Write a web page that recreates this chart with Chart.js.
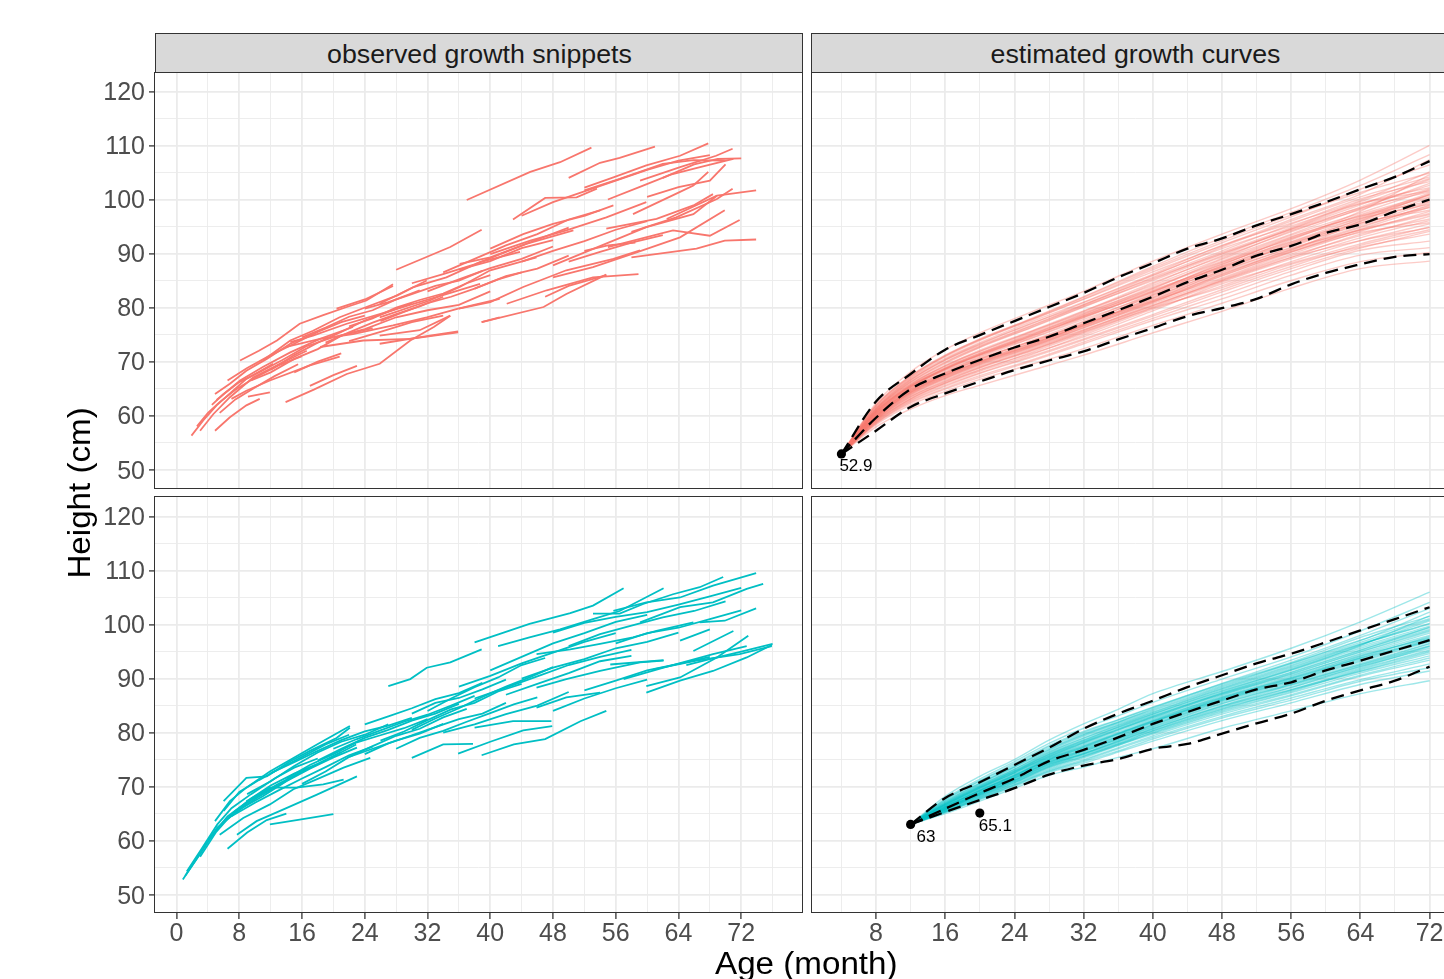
<!DOCTYPE html>
<html lang="en">
<head>
<meta charset="UTF-8">
<title>Growth snippets and estimated growth curves</title>
<script src="https://cdn.jsdelivr.net/npm/chart.js"></script>
<style>
    body {
        margin: 0;
        width: 1444px;
        height: 979px;
        overflow: hidden;
        position: relative;
        background: #fff;
        font-family: "Liberation Sans", Arial, sans-serif;
    }
    .box { position: absolute; }
    .box canvas { display: block; }
    .frame {
        position: absolute;
        border: 1.5px solid #333;
        box-sizing: border-box;
        pointer-events: none;
    }
    .strip {
        position: absolute;
        background: #d9d9d9;
        border: 1.5px solid #333;
        box-sizing: border-box;
        color: #1a1a1a;
        font-size: 25px;
        line-height: 1;
        padding-top: 8px;
        text-align: center;
        white-space: nowrap;
    }
    .strip span, .title span { display: inline-block; transform: scaleX(1.07); }
    .title {
        position: absolute;
        font-size: 31px;
        line-height: 36px;
        color: #000;
        text-align: center;
        white-space: nowrap;
    }
</style>
</head>
<body>

<div class="strip" style="left:155px; top:33px; width:648px; height:40px;"><span>observed growth snippets</span></div>
<div class="strip" style="left:811px; top:33px; width:648px; height:40px;"><span>estimated growth curves</span></div>

<div class="box" style="left:0; top:72px;"><canvas id="tl" width="802" height="416"></canvas></div>
<div class="box" style="left:812px; top:72px;"><canvas id="tr" width="647" height="416"></canvas></div>
<div class="box" style="left:0; top:497px;"><canvas id="bl" width="802" height="476"></canvas></div>
<div class="box" style="left:812px; top:497px;"><canvas id="br" width="647" height="476"></canvas></div>

<div class="frame" style="left:154px; top:72px; width:649px; height:417px;"></div>
<div class="frame" style="left:811px; top:72px; width:660px; height:417px;"></div>
<div class="frame" style="left:154px; top:496px; width:649px; height:417px;"></div>
<div class="frame" style="left:811px; top:496px; width:660px; height:417px;"></div>

<div class="title" style="left:-70px; top:475px; width:300px; transform:rotate(-90deg);"><span>Height (cm)</span></div>
<div class="title" style="left:606px; top:946px; width:400px;"><span>Age (month)</span></div>

<script>
const FONT = "'Liberation Sans', Arial, sans-serif";
Chart.defaults.font.family = FONT;

// axis breaks (major + minor grid)
const xBreaksLeft = [0, 4, 8, 12, 16, 20, 24, 28, 32, 36, 40, 44, 48, 52, 56, 60, 64, 68, 72, 76];
const xBreaksRight = [4, 8, 12, 16, 20, 24, 28, 32, 36, 40, 44, 48, 52, 56, 60, 64, 68, 72];
const yBreaks = [50, 55, 60, 65, 70, 75, 80, 85, 90, 95, 100, 105, 110, 115, 120];

// observed snippets, [age, height] per visit
const snippetsTop = [
    [[1.9,56.3],[3.4,59.1],[5.1,61.9],[7.2,64.6],[8.9,66.8],[12.3,69.6]],
    [[3,57.2],[4.7,60.3],[6.8,63.4],[9.8,67.1],[13.2,69.6],[16.6,72]],
    [[4.9,57.2],[6.8,59.7],[8.9,61.9],[10.6,63.1]],
    [[4.9,64],[6.8,65.9],[8.9,68.3],[11.5,70.5],[14.5,73.3],[17.4,75.1]],
    [[5.1,62.9],[8.1,66.5],[11,69],[14.5,71.7],[18.3,74.2],[22.5,76.4]],
    [[7,63.1],[8.9,64.6],[11.9,66.5],[17,69.3]],
    [[9.1,63.5],[11.9,64.3]],
    [[17,69.3],[20.8,70.9]],
    [[13.9,62.5],[17.5,64.8],[21.7,67.7],[25.9,69.6],[29.8,73.9],[32.8,76.4],[34.9,78.5]],
    [[8.1,70.2],[10.5,72],[12.8,73.9],[15.7,77],[18.7,78.6],[21.7,80.1],[24.2,81.3],[27.6,84.3]],
    [[11,70.2],[14.5,73.9],[17.4,75.7],[20.8,78.2],[24.2,80.1],[28.1,82.2],[31.9,85]],
    [[14.5,73.6],[17.4,74.8],[21.7,77],[25.9,78.8],[30.2,80.7],[34.4,82.5],[38.7,84.4]],
    [[14,72.7],[18.3,74.2],[22.5,75.1],[27.6,76.7],[31.9,78.2],[35.9,79.8]],
    [[18.3,72.7],[23.8,73.9],[29.8,74.2],[35.9,75.4]],
    [[20.4,79.8],[24.2,81.6],[27.6,84]],
    [[35.9,79.8],[41.2,81.6]],
    [[38.9,77.3],[41.2,78.2]],
    [[2.6,58],[4,60.5],[5.5,62.5],[7.5,64.8],[10,67],[13,69.3],[16,71]],
    [[4.5,62],[6,64],[8,66.2],[10.5,68],[13.5,70.3],[16.5,72.8],[20,74.5]],
    [[5.5,60.5],[7.5,63],[10,65.2],[12.5,67.3],[15.5,69.5]],
    [[6.5,66.5],[9,68.8],[12,71.2],[15,73.3],[18,75.5],[21,77.3],[24,78.5]],
    [[9.5,66.5],[12,68],[15,70.5],[18,72.3],[21,74.8],[25,76.2]],
    [[12,68.5],[15,71.2],[18,73.5],[21,75.5],[24,77.6],[27,79.2],[30,80.8]],
    [[16,74.5],[19,76.3],[22,78.3],[25,79.5],[28,81.5],[31,83.2]],
    [[19,73.5],[22,75.4],[25,77.2],[28,78.8],[31,80.2],[34,82]],
    [[22,76.5],[25,78],[28,80],[31,81.4],[34,82.6],[37,84.5],[40,86]],
    [[24,79.8],[27,81],[30,82.5],[33,84],[36,85],[39,86.8]],
    [[26,77.5],[29,79.2],[32,80.8],[35,82],[38,83.5],[41,85.2],[44,86.5]],
    [[37,99.9],[45.1,105.1],[48.9,106.9],[52.9,109.6]],
    [[50,104],[54,106.8],[56.5,107.7],[61,109.8]],
    [[42.9,96.3],[47,100.3],[51,100.4],[53.6,102]],
    [[52,102.2],[55.7,104.1],[59.9,106.3],[64.2,108.1],[67.8,110.4]],
    [[52,101.7],[56.5,103.8],[62,106.6],[65.9,107.3],[69.9,107.2]],
    [[59.1,103.5],[64.2,106],[68.8,108.1],[70.9,109.4]],
    [[58.2,97.3],[64.2,101.4],[65.9,102.6],[67.8,105.1]],
    [[48,87.8],[55.7,92.4],[59.9,94.9],[65.9,97.3],[68.9,100.7]],
    [[48,85.6],[53.1,87.5],[58.2,90],[64.2,93],[69.9,98]],
    [[58,89.3],[66.3,90.9],[69.9,92.4],[73.9,92.6]],
    [[55,91.2],[63.3,94.3],[68,93.3],[71.8,96.2]],
    [[58,94],[63.7,96.7],[68.9,100.1],[70.9,102]],
    [[62.5,96.4],[68.9,100.7],[73.9,101.7]],
    [[54.8,94.6],[61.2,96.4],[65.9,98.9],[68.4,101]],
    [[38.9,77.3],[46.8,80.1],[49.7,82.5],[54.8,86.1]],
    [[42.1,80.7],[47.2,83.2],[53.1,85.6],[58.9,86.2]],
    [[36,79.8],[40,81],[44.2,83.8],[49.7,86.9],[55.7,89],[59.1,90.6]],
    [[28,87],[34.9,91.2],[38.9,94.4]],
    [[40,90.9],[44.2,93.6],[48,95.5],[52.1,97],[55.7,98.9]],
    [[40,89.9],[45.1,92.4],[49.7,94.3],[54.8,96.7],[59.9,99.5]],
    [[36.1,88.1],[40,89.3],[44.6,91.8],[50.6,94.3]],
    [[25.9,80.7],[30.2,83.8],[34.4,85.6],[38.7,88.4],[43.8,90.3]],
    [[25.9,78.2],[32.3,81.3],[36.1,83.8],[40,86.9],[45.9,89.3]],
    [[25.9,73.3],[32.3,74.8],[35.9,75.6]],
    [[25.9,74.8],[31,75.8],[34.9,78.5]],
    [[44,97],[48,99.5],[52,101.5],[56,103.5],[60,105.5],[64,107.2],[68,108.2]],
    [[55,100],[59,102.3],[63,104.6],[67,106.1],[71,107.5]],
    [[62,104],[66,106.5],[69,107.5],[72,107.6]],
    [[60,100.5],[64,102.3],[68,103.5],[70,106.5]],
    [[47,82],[50,84],[54.8,86]],
    [[50,88.5],[54,90.3],[58,92],[62,93.4]],
    [[52,90.5],[55,91.5],[58.5,92]],
    [[44,88.5],[48,90.5],[52,92.3],[56,94.4],[60,96]],
    [[30,84.5],[34,86.2],[38,88],[42,90.3],[46,92.6],[50,94.8]],
    [[32,83],[36,85.2],[40,87.3],[44,89],[48,91.3]],
    [[34,86.5],[38,89],[42,91.5],[46,93.6],[50,96.3],[54,98]],
    [[36,87],[40,88.6],[44,91],[48,92.5]],
    [[38,83.5],[42,85.8],[46,87.2],[50,89.6]],
    [[20,74.5],[24,76],[28,78.2],[32,79.5],[36,80.5],[40,83]],
    [[22,73.8],[26,75.5],[30,77.3],[34,78.5]],
    [[15,68],[18,70],[21,71.5]],
    [[17,65.5],[20,67.5],[23,69.2]]
];

const snippetsBottom = [
    [[0.8,52.8],[2.5,56.5],[4.5,61],[6.5,64.5],[9,67.2],[12,69.5]],
    [[1.1,53.5],[3,57.5],[5,62],[7.5,65.5],[10,68],[13,70.5],[16,72.8]],
    [[1.3,54.3],[3.2,58.5],[5.2,63],[7,66],[9.5,68.6],[12.5,71.5],[15,73.5],[18,75.2]],
    [[6,67.3],[8.9,71.6],[11.5,71.9],[14.5,74.7],[17,76.6],[20.4,79],[22.1,80.9]],
    [[4.9,63.6],[6.8,67.3],[8.9,69.8],[11.9,72.8],[14.9,75.3],[17.9,77.8],[22.1,81.2]],
    [[5.1,62.3],[7.7,65.4],[10.2,67.9],[13.2,70.4],[16.2,72.9],[19.6,75.3],[22.9,77.8]],
    [[5.5,61.1],[8.5,64.2],[11.9,66.7],[14.9,69.5],[18.3,71.6],[21.3,73.5],[24.7,75.3]],
    [[7.7,61.1],[10.2,63.6],[14,66],[17.9,68.5],[23,71.9]],
    [[11.9,63],[15.7,63.9],[20,64.9]],
    [[8.9,67.3],[11.9,69.8],[15.3,69.8],[18.7,70.4],[21.3,71.3]],
    [[6.5,58.5],[9,61.5],[11.5,63.8],[14,65]],
    [[4,60],[6,63.5],[8.5,66.2],[11,68.2],[14,71],[17,73.3],[20,75.4],[23,77.2]],
    [[7,64.5],[10,67],[13,69.3],[16,71.5],[19,73.6],[22,75.8],[25,77.4]],
    [[9,68.6],[12,71],[15,73.8],[18,76.3],[21,78.3],[24,79.6],[27,81.5]],
    [[12,72.5],[15,74.5],[18,76.6],[21,78.6],[24,80.2],[27,81.3],[30,82.7]],
    [[14,71.5],[17,74],[20,76],[23,78.2],[26,79.5],[29,80.8],[32,82.5]],
    [[16,70.5],[19,72.8],[22,75.5],[25,77],[28,78.5],[31,79.8],[34,81.6]],
    [[18,74.8],[21,77],[24,79],[27,80.5],[30,82.2],[33,83.5],[36,85.3]],
    [[20,77],[23,78.8],[26,80.4],[29,82],[32,83.3],[35,85],[38,86.8]],
    [[22,75.5],[25,77.5],[28,79.4],[31,80.7],[34,82.8],[37,84.4]],
    [[24,76],[27,78],[30,79.5],[33,81],[36,82.5],[39,83.5],[42,85.5]],
    [[24,81.5],[27,83],[30,84.5],[33,86.2],[36,87.3],[39,89.2]],
    [[26,78.5],[29,80.2],[32,82.3],[35,84.3],[38,85.5],[41,87.6],[44,89]],
    [[28,77],[31,79],[34,80.3],[37,82],[40,83.6],[43,85.2],[46,86.5]],
    [[30,80.5],[33,82.6],[36,84.5],[39,86.6],[42,88.5],[45,90.2],[48,92.1]],
    [[32,84],[35,86.3],[38,88.4],[41,90.2],[44,92.5],[47,93.8]],
    [[27,88.6],[29.8,89.9],[31.9,92],[34.9,93],[38.9,95.4]],
    [[38,96.7],[41.7,98.5],[45,100.1],[50.2,102.1],[53.1,103.5],[57,106.7]],
    [[41,96],[45,97.6],[48.9,99.1],[53.1,101],[56.5,102.5],[62.1,106.7]],
    [[53.1,102],[56.5,102],[59.5,103.8],[63.3,105.6],[66.7,106.9],[69.7,108.8]],
    [[55.7,102.5],[59.9,104.1],[64.2,105],[68.4,107.2],[73.9,109.5]],
    [[59.1,100.4],[64.2,103.2],[68.4,104.1],[72.7,106.6],[74.8,107.5]],
    [[66.7,100.4],[69.9,100.7],[73.9,103]],
    [[57,89.9],[62.1,92],[68.4,94.5],[72.7,96]],
    [[59.9,88.6],[64.2,90.2],[68.9,93.9],[72.9,97.9]],
    [[59.9,87.4],[64.2,89.6],[68.4,91.4],[72.7,93.9],[75.9,96.2]],
    [[60.8,91.7],[66.3,93.3],[71.8,94.5],[75.9,96]],
    [[65.9,95.1],[71,98.8]],
    [[64.2,97],[68,99.1]],
    [[45.9,94.5],[50.2,95.4],[54,96.4],[58.2,97.6],[61.2,98.8],[65.9,100.4]],
    [[45.9,88.3],[49.7,89.9],[54,91.4],[59.1,93],[62.1,93.3]],
    [[45.9,84.6],[49.7,86.5],[54,87.4]],
    [[30,75.3],[34,77.8],[37.8,77.9]],
    [[35.9,76.1],[40,78.3],[44.2,80.4],[47.9,81.2]],
    [[38.9,75.8],[43,77.8],[47,78.8],[51.5,82.1],[54.8,84]],
    [[38,80.9],[42.9,82.1],[47.8,82.1]],
    [[55.3,92.6],[62.1,93.4]],
    [[36,88.5],[40,90.5],[44,92.8],[48,94.8],[52,96.8],[56,98.4]],
    [[38,86.3],[42,88.3],[46,90.4],[50,92.5],[54,94],[58,95.3]],
    [[40,91.5],[44,94],[48,96.5],[52,98.4],[56,100.5],[60,101.8]],
    [[42,87],[46,89],[50,91],[54,93.2],[58,94.2]],
    [[44,90],[48,92],[52,93.6],[56,95.6],[60,96.8],[64,98.5]],
    [[48,98.5],[52,100.3],[56,101.4],[60,102.3],[64,103.7],[68,105.2],[72,106.8]],
    [[50,96],[54,98.2],[58,99.8],[62,101.3],[66,102.5],[70,104.3]],
    [[56,96.5],[60,98.4],[64,99.4],[68,101],[72,102.6]],
    [[30,83.5],[33,85.5],[36,86.4],[39,88],[42,89.8]],
    [[34,80],[38,81.5],[42,83.4],[46,85],[50,87.5]],
    [[48,84],[52,86.3],[56,88.2],[60,89.8]],
    [[52,87.8],[56,89.6],[60,91.5],[64,92.7],[68,94]],
    [[65,92.5],[68,93.6],[72,95],[76,96.4]],
    [[6,65.5],[8,69],[10.5,71.2],[13,73.2],[16,75.5],[19,77.8],[22,79.6]],
    [[3,57],[5,61.5],[7,64.8],[9.5,67.8],[12,70.2],[15,72.4],[18,74.2],[21,76.4]]
];

// estimated curves (top row starts at 4 months, bottom row at 12 months)
const curveAgesTop = [4, 8, 12, 16, 20, 26, 32, 40, 48, 56, 64, 72];
const curvesTop = [
    [52.9, 61.8, 67.2, 71.0, 74.0, 77.8, 81.6, 87.0, 92.0, 96.8, 101.9, 106.4],
    [52.9, 61.2, 66.5, 70.3, 73.2, 77.1, 80.6, 85.9, 91.2, 96.0, 100.5, 104.2],
    [52.9, 62.3, 68.1, 72.2, 75.3, 79.2, 83.0, 88.6, 93.6, 98.3, 103.6, 110.0],
    [52.9, 60.9, 65.9, 69.1, 71.9, 75.5, 79.3, 84.6, 89.4, 94.0, 98.6, 102.6],
    [52.9, 60.4, 65.2, 68.5, 71.2, 74.6, 78.4, 83.1, 88.0, 92.8, 96.7, 101.2],
    [52.9, 59.9, 64.7, 67.9, 70.4, 73.9, 77.5, 82.6, 87.6, 92.1, 96.2, 100.3],
    [52.9, 59.6, 64.1, 67.0, 69.5, 72.7, 76.3, 80.9, 85.8, 90.4, 94.5, 98.6],
    [52.9, 59.2, 63.5, 66.3, 68.8, 72.0, 75.4, 80.0, 84.7, 89.0, 92.9, 96.1],
    [52.9, 58.8, 62.8, 65.6, 67.9, 71.0, 74.2, 78.7, 83.3, 87.6, 91.5, 94.4],
    [52.9, 58.3, 62.0, 64.5, 66.7, 69.5, 72.4, 76.7, 80.8, 85.0, 88.5, 90.2],
    [52.9, 57.9, 61.2, 63.7, 65.6, 68.4, 71.2, 75.3, 79.3, 83.6, 87.2, 88.6],
    [52.9, 60.6, 65.6, 68.9, 71.5, 75.0, 78.8, 83.8, 88.6, 93.4, 97.5, 101.8],
    [52.9, 61.0, 66.1, 69.6, 72.6, 76.3, 80.1, 85.2, 90.2, 94.8, 99.6, 103.9],
    [52.9, 59.4, 63.9, 66.8, 69.2, 72.4, 75.8, 80.7, 85.3, 89.9, 94.1, 97.8],
    [52.9, 60.2, 64.9, 68.2, 70.6, 73.7, 77.0, 81.4, 86.1, 90.8, 95.0, 98.8],
    [52.9, 59.8, 64.4, 67.5, 69.9, 73.2, 77.0, 82.3, 87.1, 91.5, 95.3, 99.4],
    [52.9, 60.7, 65.4, 68.7, 71.4, 75.1, 78.6, 83.3, 87.6, 92.5, 97.2, 100.8],
    [52.9, 59.1, 63.2, 66.0, 68.5, 71.5, 74.6, 79.4, 84.4, 88.2, 91.8, 94.9],
    [52.9, 61.5, 66.9, 70.6, 73.5, 77.4, 81.0, 86.2, 91.5, 95.6, 99.8, 105.1],
    [52.9, 59.7, 64.3, 67.3, 69.8, 72.9, 76.6, 81.6, 86.4, 90.7, 94.8, 99.0],
    [52.9, 60.3, 65.0, 68.0, 70.8, 74.3, 77.8, 82.4, 87.8, 93.0, 97.0, 100.5],
    [52.9, 58.6, 62.5, 65.1, 67.4, 70.3, 73.6, 78.0, 82.3, 86.7, 90.6, 92.3],
    [52.9, 60.1, 64.6, 67.7, 70.5, 73.8, 76.9, 81.2, 85.5, 90.2, 94.4, 97.4],
    [52.9, 61.1, 66.3, 69.9, 72.8, 76.6, 80.4, 85.6, 90.5, 95.4, 100.1, 103.3],
    [52.9, 59.3, 63.6, 66.6, 69.0, 72.2, 75.7, 80.4, 85.1, 89.6, 93.3, 96.9],
    [52.9, 60.5, 65.3, 68.4, 71.0, 74.8, 78.2, 82.9, 88.3, 93.1, 96.9, 99.7],
    [52.9, 59.0, 63.0, 65.9, 68.2, 71.3, 74.9, 79.7, 84.0, 88.5, 92.4, 95.5],
    [52.9, 61.4, 66.7, 70.4, 73.3, 77.0, 80.9, 86.0, 90.9, 95.1, 99.3, 102.2],
    [52.9, 60.0, 64.6, 67.6, 70.1, 73.3, 76.7, 81.9, 86.8, 91.2, 96.0, 101.0],
    [52.9, 58.9, 63.1, 66.1, 68.4, 71.7, 75.2, 79.9, 83.7, 88.0, 91.2, 93.6],
    [52.9, 60.8, 65.7, 69.2, 72.1, 75.7, 79.4, 84.1, 89.1, 94.2, 98.1, 102.0],
    [52.9, 59.5, 64.0, 67.1, 69.6, 72.8, 76.2, 81.0, 86.2, 90.6, 95.6, 98.0],
    [52.9, 61.7, 67.0, 70.9, 73.9, 77.7, 81.5, 86.6, 91.4, 96.3, 101.0, 107.4],
    [52.9, 58.5, 62.3, 64.9, 67.1, 70.1, 73.3, 77.6, 81.6, 86.0, 89.7, 91.1],
    [52.9, 60.6, 65.5, 68.8, 71.6, 75.3, 78.9, 83.6, 88.4, 92.7, 97.8, 104.6],
    [52.9, 59.9, 64.5, 67.4, 70.0, 73.0, 76.4, 81.3, 86.6, 91.0, 94.3, 97.2],
    [52.9, 60.3, 65.1, 68.6, 71.3, 74.9, 78.5, 83.5, 88.9, 93.6, 98.3, 103.0],
    [52.9, 59.6, 64.2, 67.2, 69.7, 73.1, 76.8, 81.8, 86.9, 91.8, 96.4, 100.9],
    [52.9, 61.3, 66.6, 70.2, 73.0, 76.7, 80.5, 85.4, 90.0, 94.4, 98.4, 101.4],
    [52.9, 58.7, 62.7, 65.4, 67.8, 70.8, 74.0, 78.4, 82.9, 87.2, 91.0, 94.1],
    [52.9, 60.0, 64.8, 67.8, 70.3, 73.5, 77.3, 82.1, 87.3, 91.6, 95.9, 99.6],
    [52.9, 61.9, 67.3, 71.1, 74.2, 77.9, 81.9, 87.3, 92.4, 97.1, 101.3, 104.9],
    [52.9, 59.4, 63.8, 66.9, 69.4, 72.6, 75.9, 80.4, 84.9, 89.3, 93.6, 96.4],
    [52.9, 60.9, 65.8, 69.3, 71.9, 75.6, 79.1, 84.4, 89.6, 94.5, 99.0, 103.7],
    [52.9, 59.8, 64.3, 67.5, 70.0, 73.4, 76.6, 81.1, 85.9, 90.3, 93.9, 95.7],
    [52.9, 60.4, 65.3, 68.7, 71.2, 74.4, 78.1, 83.0, 87.4, 91.9, 95.6, 98.5],
    [52.9, 62.0, 67.4, 71.2, 74.1, 78.0, 82.0, 87.6, 92.9, 97.6, 102.6, 108.3],
    [52.9, 59.2, 63.4, 66.4, 68.9, 72.1, 75.5, 80.2, 85.0, 89.3, 92.4, 94.8],
    [52.9, 60.7, 65.5, 68.6, 71.3, 74.7, 78.3, 82.8, 88.1, 92.2, 96.5, 99.1],
    [52.9, 61.2, 66.2, 69.8, 72.7, 76.4, 80.2, 85.0, 89.9, 94.6, 99.2, 101.6]
];

const curveAgesBottom = [12, 16, 20, 24, 28, 32, 36, 40, 48, 56, 64, 72];
const curvesBottom = [
    [63, 67.6, 71.1, 74.3, 77.6, 80.2, 82.4, 84.7, 89.0, 93.0, 97.6, 101.5],
    [63, 67.0, 70.3, 73.3, 76.6, 79.3, 81.6, 83.8, 88.2, 92.3, 96.4, 100.2],
    [63, 68.2, 71.9, 75.0, 78.6, 81.6, 84.3, 87.2, 91.3, 95.6, 100.5, 106.0],
    [63, 66.5, 69.6, 72.5, 75.5, 78.0, 80.4, 82.7, 87.0, 90.9, 95.0, 98.9],
    [63, 66.2, 69.2, 72.0, 75.0, 77.2, 79.6, 82.0, 86.3, 89.9, 93.9, 97.8],
    [63, 65.9, 68.8, 71.6, 74.5, 76.6, 78.9, 81.3, 85.6, 89.1, 92.8, 96.5],
    [63, 65.6, 68.3, 70.9, 73.7, 75.7, 77.9, 80.2, 84.3, 87.8, 91.3, 94.6],
    [63, 65.3, 67.8, 70.3, 72.9, 74.8, 77.0, 79.1, 83.0, 86.4, 89.8, 92.7],
    [63, 65.0, 67.3, 69.7, 72.1, 73.6, 75.4, 77.0, 80.8, 84.0, 87.2, 89.6],
    [63, 66.8, 70.0, 72.9, 76.0, 78.6, 81.0, 83.3, 87.6, 91.7, 95.9, 99.7],
    [63, 66.3, 69.3, 72.2, 75.3, 77.6, 79.9, 82.3, 86.8, 90.6, 94.4, 98.0],
    [63, 65.8, 68.6, 71.3, 74.2, 76.2, 78.5, 80.8, 85.0, 88.7, 92.2, 95.6],
    [63, 65.4, 68.0, 70.6, 73.3, 75.3, 77.6, 79.7, 83.7, 87.0, 90.6, 93.8],
    [63, 67.3, 70.7, 73.8, 77.1, 79.8, 82.0, 84.2, 88.6, 92.8, 97.0, 102.3],
    [63, 66.6, 69.8, 72.7, 75.8, 78.3, 80.7, 83.0, 87.3, 91.2, 95.3, 99.1],
    [63, 66.0, 69.0, 71.8, 74.8, 76.9, 79.3, 81.7, 86.0, 89.6, 93.5, 97.2],
    [63, 65.7, 68.5, 71.2, 74.0, 76.1, 78.3, 80.6, 84.8, 88.3, 92.0, 95.9],
    [63, 65.2, 67.6, 70.0, 72.6, 74.3, 76.4, 78.4, 82.2, 85.5, 88.9, 91.4],
    [63, 67.8, 71.4, 74.6, 78.0, 80.8, 83.1, 85.6, 89.9, 94.0, 98.8, 104.1],
    [63, 66.4, 69.5, 72.4, 75.4, 77.8, 80.1, 82.5, 86.6, 90.4, 94.6, 98.4],
    [63, 65.9, 68.7, 71.5, 74.4, 76.4, 78.7, 81.1, 85.4, 88.9, 92.5, 96.1],
    [63, 65.5, 68.1, 70.7, 73.5, 75.5, 77.8, 79.9, 83.9, 87.4, 91.0, 94.2],
    [63, 66.9, 70.1, 73.1, 76.3, 78.9, 81.3, 83.5, 87.9, 91.9, 96.2, 100.7],
    [63, 66.1, 69.1, 71.9, 74.9, 77.1, 79.4, 81.9, 86.1, 89.7, 93.7, 96.9],
    [63, 65.6, 68.2, 70.8, 73.6, 75.6, 77.7, 80.0, 84.1, 87.6, 91.6, 95.1],
    [63, 66.7, 69.9, 72.8, 75.9, 78.4, 80.9, 83.1, 87.4, 91.5, 95.6, 99.4],
    [63, 66.3, 69.4, 72.1, 75.2, 77.4, 79.8, 82.2, 86.5, 90.1, 94.1, 97.6],
    [63, 65.8, 68.4, 71.1, 73.9, 76.0, 78.2, 80.4, 84.6, 88.0, 91.4, 94.9],
    [63, 67.1, 70.5, 73.6, 76.8, 79.5, 81.8, 84.0, 88.4, 92.5, 96.7, 100.9],
    [63, 66.0, 68.9, 71.7, 74.6, 76.7, 79.0, 81.4, 85.8, 89.3, 93.1, 96.8],
    [63, 66.5, 69.7, 72.6, 75.7, 78.1, 80.5, 82.9, 87.2, 91.1, 95.2, 99.5],
    [63, 65.9, 68.9, 71.6, 74.6, 76.8, 79.2, 81.5, 85.9, 89.5, 93.3, 97.0],
    [63, 67.2, 70.6, 73.6, 76.9, 79.6, 81.9, 84.4, 88.8, 92.8, 97.1, 101.1],
    [63, 65.4, 67.9, 70.4, 73.1, 75.0, 77.2, 79.4, 83.4, 86.8, 90.4, 93.4],
    [63, 66.2, 69.3, 72.1, 75.1, 77.5, 79.8, 82.1, 86.4, 90.2, 94.2, 97.4],
    [63, 67.5, 71.0, 74.0, 77.4, 80.0, 82.3, 84.6, 89.1, 93.4, 98.0, 103.0],
    [63, 65.7, 68.4, 71.0, 73.8, 75.9, 78.0, 80.3, 84.4, 87.9, 91.8, 95.3],
    [63, 66.6, 69.7, 72.6, 75.6, 78.2, 80.6, 82.8, 87.1, 90.8, 94.9, 98.7],
    [63, 66.0, 68.8, 71.5, 74.3, 76.5, 78.8, 81.0, 85.3, 88.9, 92.6, 96.4],
    [63, 65.3, 67.7, 70.2, 72.8, 74.6, 76.6, 78.8, 82.7, 86.0, 89.5, 92.0],
    [63, 66.9, 70.2, 73.2, 76.4, 79.0, 81.4, 83.7, 88.1, 92.1, 96.3, 100.1],
    [63, 66.3, 69.2, 72.0, 75.0, 77.3, 79.7, 82.0, 86.2, 90.0, 93.8, 97.3],
    [63, 65.8, 68.6, 71.2, 74.1, 76.1, 78.4, 80.7, 84.9, 88.4, 92.3, 96.0],
    [63, 66.7, 69.9, 72.9, 76.1, 78.6, 81.1, 83.4, 87.7, 91.6, 96.1, 101.6]
];

// dashed quantile curves
const qAgesTop = [4, 8, 12, 16, 20, 24, 28, 32, 36, 40, 44, 48, 52, 56, 60, 64, 68, 72];
const qUpperTop = [52.9, 62.6, 67.7, 72.2, 74.9, 77.5, 80.1, 82.7, 85.6, 88.2, 90.9, 92.8, 95.2, 97.3, 99.5, 101.9, 104.2, 107.1];
const qMedianTop = [52.9, 59.6, 64.9, 67.8, 70.3, 72.6, 74.6, 77.1, 79.5, 82.0, 84.7, 87.0, 89.6, 91.4, 93.8, 95.4, 97.8, 100.0];
const qLowerTop = [52.9, 57.2, 61.6, 64.1, 66.3, 68.4, 70.2, 71.9, 74.1, 76.2, 78.4, 79.9, 81.6, 84.3, 86.4, 88.0, 89.4, 89.9];

const qAgesBottom = [12, 16, 20, 24, 28, 32, 36, 40, 44, 48, 52, 56, 60, 64, 68, 72];
const qUpperBottom = [63, 67.9, 70.8, 74.0, 77.2, 80.7, 83.5, 85.9, 88.4, 90.6, 92.8, 94.6, 96.7, 98.9, 101.0, 103.2];
const qMedianBottom = [63, 65.9, 68.8, 71.5, 74.7, 76.8, 79.1, 81.6, 83.8, 85.9, 88.0, 89.3, 91.5, 93.3, 95.2, 97.1];
const qLowerBottom = [63, 65.3, 67.5, 69.7, 72.2, 73.9, 75.1, 77.0, 77.9, 79.8, 81.7, 83.5, 85.9, 87.8, 89.6, 92.2];

// labelled observations [age, height]
const marksTop = [[4, 52.9]];
const marksBottom = [[12, 63], [20, 65.1]];
// pixel nudges for their text labels
const nudgeTop = [[-2, 17]];
const nudgeBottom = [[6, 18], [-1, 17.5]];

const RED = '#F8766D';
const TEAL = '#00BFC4';

function xScale(min, max, breaks, labels) {
    return {
        type: 'linear', min: min, max: max,
        afterBuildTicks: s => { s.ticks = breaks.map(v => ({ value: v })); },
        afterFit: s => {
            s.height = labels ? 60 : 0;
            s.paddingLeft = 0; s.paddingRight = 0;
        },
        border: { display: false },
        grid: {
            color: '#ebebeb',
            lineWidth: c => (c.tick && c.tick.value % 8 === 0) ? 1.8 : 0.9,
            drawTicks: labels,
            tickLength: 6,
            tickWidth: 1.3,
            tickColor: c => (c.tick && c.tick.value % 8 === 0) ? '#333' : 'rgba(0,0,0,0)'
        },
        ticks: {
            display: labels, autoSkip: false, maxRotation: 0, padding: 0,
            color: '#4d4d4d', font: { size: 25 },
            callback: v => v % 8 === 0 ? String(v) : ''
        }
    };
}

function yScale(labels) {
    return {
        type: 'linear', min: 46.6, max: 123.6,
        afterBuildTicks: s => { s.ticks = yBreaks.map(v => ({ value: v })); },
        afterFit: s => {
            s.width = labels ? 155 : 0;
            s.paddingTop = 0; s.paddingBottom = 0;
        },
        border: { display: false },
        grid: {
            color: '#ebebeb',
            lineWidth: c => (c.tick && c.tick.value % 10 === 0) ? 1.8 : 0.9,
            drawTicks: labels,
            tickLength: 6,
            tickWidth: 1.3,
            tickColor: c => (c.tick && c.tick.value % 10 === 0) ? '#333' : 'rgba(0,0,0,0)'
        },
        ticks: {
            display: labels, autoSkip: false, padding: 4, labelOffset: 2,
            color: '#4d4d4d', font: { size: 25 },
            callback: v => v % 10 === 0 ? String(v) : ''
        }
    };
}

function snippetSets(list, color) {
    return list.map(pts => ({
        data: pts.map(p => ({ x: p[0], y: p[1] })),
        borderColor: color, borderWidth: 1.8, pointRadius: 0, tension: 0
    }));
}

function curveSets(ages, list, color) {
    return list.map(h => ({
        data: h.map((y, i) => ({ x: ages[i], y: y })),
        borderColor: color, borderWidth: 1.4, pointRadius: 0,
        cubicInterpolationMode: 'monotone', order: 3
    }));
}

function dashedSet(ages, h) {
    return {
        data: h.map((y, i) => ({ x: ages[i], y: y })),
        borderColor: '#000', borderWidth: 2.3, borderDash: [13, 7],
        pointRadius: 0, cubicInterpolationMode: 'monotone', order: 1
    };
}

function markSet(marks) {
    return {
        data: marks.map(m => ({ x: m[0], y: m[1] })),
        showLine: false, pointRadius: 4.6, pointBackgroundColor: '#000',
        pointBorderWidth: 0, order: 0
    };
}

// text next to the black points
const markLabels = {
    id: 'markLabels',
    afterDatasetsDraw(chart, args, opts) {
        if (!opts.marks) return;
        const ctx = chart.ctx;
        ctx.save();
        ctx.font = '17px ' + FONT;
        ctx.fillStyle = '#000';
        ctx.textAlign = 'left';
        ctx.textBaseline = 'alphabetic';
        opts.marks.forEach((m, i) => {
            const px = chart.scales.x.getPixelForValue(m[0]);
            const py = chart.scales.y.getPixelForValue(m[1]);
            ctx.fillText(String(m[1]), px + opts.nudge[i][0], py + opts.nudge[i][1]);
        });
        ctx.restore();
    }
};

function makePanel(id, datasets, xs, ys, marks, nudge) {
    new Chart(document.getElementById(id), {
        type: 'line',
        data: { datasets: datasets },
        options: {
            responsive: false,
            animation: false,
            devicePixelRatio: 1,
            layout: { padding: 0, autoPadding: false },
            plugins: {
                legend: { display: false },
                tooltip: { enabled: false },
                markLabels: { marks: marks, nudge: nudge }
            },
            scales: { x: xs, y: ys }
        },
        plugins: [markLabels]
    });
}

makePanel('tl', snippetSets(snippetsTop, RED),
    xScale(-2.75, 79.75, xBreaksLeft, false), yScale(true));
makePanel('bl', snippetSets(snippetsBottom, TEAL),
    xScale(-2.75, 79.75, xBreaksLeft, true), yScale(true));

makePanel('tr', [markSet(marksTop),
        dashedSet(qAgesTop, qUpperTop), dashedSet(qAgesTop, qMedianTop), dashedSet(qAgesTop, qLowerTop)]
        .concat(curveSets(curveAgesTop, curvesTop, 'rgba(248,118,109,0.38)')),
    xScale(0.6, 75.4, xBreaksRight, false), yScale(false), marksTop, nudgeTop);
makePanel('br', [markSet(marksBottom),
        dashedSet(qAgesBottom, qUpperBottom), dashedSet(qAgesBottom, qMedianBottom), dashedSet(qAgesBottom, qLowerBottom)]
        .concat(curveSets(curveAgesBottom, curvesBottom, 'rgba(0,191,196,0.38)')),
    xScale(0.6, 75.4, xBreaksRight, true), yScale(false), marksBottom, nudgeBottom);
</script>
</body>
</html>
